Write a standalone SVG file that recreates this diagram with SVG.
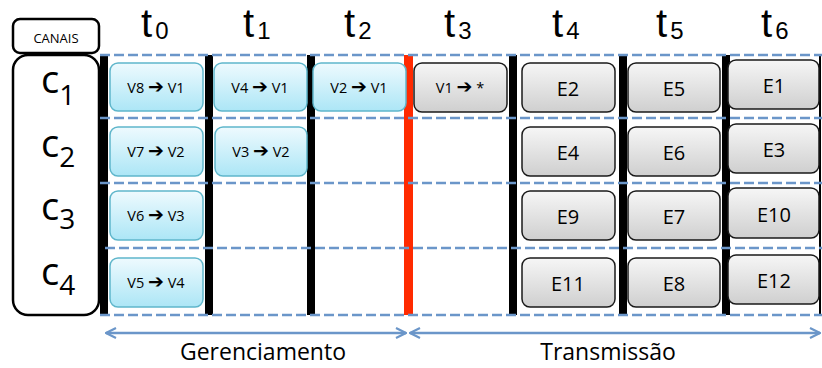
<svg xmlns="http://www.w3.org/2000/svg" width="822" height="368" viewBox="0 0 822 368">
<style>
text{font-family:"Open Sans","DejaVu Sans",sans-serif;fill:#000}
.lbl{font-size:14.5px;text-anchor:middle}
.ar{font-family:"DejaVu Sans",sans-serif;font-weight:bold;font-size:19px}
.e{font-size:20px;text-anchor:middle}
.t{font-family:"Liberation Sans","Open Sans",sans-serif;font-size:40px}
.tsub{font-size:24px}
.c{font-size:38px}
.csub{font-size:28px}
.blue{fill:url(#gb);stroke:#5fb6cb;stroke-width:1.5}
.gray{fill:url(#gg);stroke:#1a1a1a;stroke-width:1.5}
.dash{stroke:#6b96c9;stroke-width:2.5;stroke-dasharray:10 4;fill:none}
.bar{fill:#000}
.frame{fill:#fff;stroke:#000;stroke-width:2.5}
.arr{stroke:#6b96c9;stroke-width:2.5;fill:none}
</style>
<defs>
<linearGradient id="gb" x1="0" y1="0" x2="0" y2="1"><stop offset="0" stop-color="#eefafe"/><stop offset="1" stop-color="#ace6f6"/></linearGradient>
<linearGradient id="gg" x1="0" y1="0" x2="0" y2="1"><stop offset="0" stop-color="#f6f6f6"/><stop offset="1" stop-color="#cfcfcf"/></linearGradient>
<marker id="ah" viewBox="0 0 12 12" refX="11" refY="6" markerWidth="12" markerHeight="12" markerUnits="userSpaceOnUse" orient="auto-start-reverse"><path d="M1,1 L11,6 L1,11" fill="none" stroke="#6b96c9" stroke-width="2.2"/></marker>
</defs>

<g id="canais"><rect class="frame" x="13" y="19" width="86" height="34" rx="7"/><text x="56" y="43" style="font-size:13px;text-anchor:middle">CANAIS</text></g>
<g id="channels"><rect class="frame" x="13" y="55" width="86" height="260" rx="15"/>
<text x="41" y="93" class="c">c<tspan class="csub" dy="12">1</tspan></text>
<text x="41" y="157" class="c">c<tspan class="csub" dy="10">2</tspan></text>
<text x="41" y="220" class="c">c<tspan class="csub" dy="9">3</tspan></text>
<text x="41" y="285" class="c">c<tspan class="csub" dy="10">4</tspan></text>
</g>

<g id="time-labels">
<text x="141" y="37" class="t">t<tspan class="tsub" dx="3" dy="2">0</tspan></text>
<text x="243" y="37" class="t">t<tspan class="tsub" dx="3" dy="2">1</tspan></text>
<text x="344" y="37" class="t">t<tspan class="tsub" dx="3" dy="2">2</tspan></text>
<text x="444" y="37" class="t">t<tspan class="tsub" dx="3" dy="2">3</tspan></text>
<text x="552" y="37" class="t">t<tspan class="tsub" dx="3" dy="2">4</tspan></text>
<text x="656" y="37" class="t">t<tspan class="tsub" dx="3" dy="2">5</tspan></text>
<text x="761" y="37" class="t">t<tspan class="tsub" dx="3" dy="2">6</tspan></text>
</g>

<g id="grid">
<rect class="bar" x="100" y="55" width="8" height="260"/>
<rect class="bar" x="205" y="55" width="8" height="260"/>
<rect class="bar" x="307" y="55" width="8" height="260"/>
<rect x="404" y="55" width="9" height="260" fill="#ff2a00"/>
<rect class="bar" x="509" y="55" width="8" height="260"/>
<rect class="bar" x="619" y="55" width="8" height="260"/>
<rect class="bar" x="722" y="55" width="8" height="260"/>
<rect class="bar" x="819" y="55" width="2" height="260"/>
<line class="dash" x1="100" y1="55" x2="822" y2="55"/>
<line class="dash" x1="100" y1="118" x2="822" y2="118"/>
<line class="dash" x1="100" y1="183" x2="822" y2="183"/>
<line class="dash" x1="105" y1="248" x2="822" y2="248"/>
<line class="dash" x1="100" y1="315" x2="822" y2="315"/>
</g>

<g id="n-v8v1"><rect class="blue" x="110" y="63" width="93" height="48" rx="8"/><text class="lbl" x="156" y="93">V8 <tspan class="ar">➔</tspan> V1</text></g>
<g id="n-v7v2"><rect class="blue" x="110" y="127" width="93" height="49" rx="8"/><text class="lbl" x="156" y="157">V7 <tspan class="ar">➔</tspan> V2</text></g>
<g id="n-v6v3"><rect class="blue" x="110" y="191" width="93" height="49" rx="8"/><text class="lbl" x="156" y="221">V6 <tspan class="ar">➔</tspan> V3</text></g>
<g id="n-v5v4"><rect class="blue" x="110" y="258" width="93" height="49" rx="8"/><text class="lbl" x="156" y="288">V5 <tspan class="ar">➔</tspan> V4</text></g>
<g id="n-v4v1"><rect class="blue" x="214" y="63" width="93" height="48" rx="8"/><text class="lbl" x="260" y="93">V4 <tspan class="ar">➔</tspan> V1</text></g>
<g id="n-v3v2"><rect class="blue" x="215" y="127" width="92" height="49" rx="8"/><text class="lbl" x="261" y="157">V3 <tspan class="ar">➔</tspan> V2</text></g>
<g id="n-v2v1"><rect class="blue" x="313" y="63" width="93" height="48" rx="8"/><text class="lbl" x="359" y="93">V2 <tspan class="ar">➔</tspan> V1</text></g>
<g id="n-v1"><rect class="gray" x="414" y="63" width="93" height="49" rx="8"/><text class="lbl" x="460" y="93">V1 <tspan class="ar">➔</tspan> *</text></g>

<g id="n-e2"><rect class="gray" x="522" y="63" width="93" height="49" rx="8"/><text class="e" x="568" y="96">E2</text></g>
<g id="n-e4"><rect class="gray" x="522" y="127" width="93" height="49" rx="8"/><text class="e" x="568" y="160">E4</text></g>
<g id="n-e9"><rect class="gray" x="522" y="191" width="93" height="49" rx="8"/><text class="e" x="568" y="224">E9</text></g>
<g id="n-e11"><rect class="gray" x="522" y="258" width="93" height="49" rx="8"/><text class="e" x="568" y="291">E11</text></g>
<g id="n-e5"><rect class="gray" x="628" y="63" width="92" height="49" rx="8"/><text class="e" x="674" y="96">E5</text></g>
<g id="n-e6"><rect class="gray" x="628" y="127" width="92" height="49" rx="8"/><text class="e" x="674" y="160">E6</text></g>
<g id="n-e7"><rect class="gray" x="628" y="191" width="92" height="49" rx="8"/><text class="e" x="674" y="224">E7</text></g>
<g id="n-e8"><rect class="gray" x="628" y="258" width="92" height="49" rx="8"/><text class="e" x="674" y="291">E8</text></g>
<g id="n-e1"><rect class="gray" x="728" y="60" width="91" height="49" rx="8"/><text class="e" x="774" y="93">E1</text></g>
<g id="n-e3"><rect class="gray" x="728" y="124" width="91" height="49" rx="8"/><text class="e" x="774" y="157">E3</text></g>
<g id="n-e10"><rect class="gray" x="728" y="188" width="91" height="50" rx="8"/><text class="e" x="774" y="222">E10</text></g>
<g id="n-e12"><rect class="gray" x="728" y="255" width="91" height="49" rx="8"/><text class="e" x="774" y="288">E12</text></g>

<g id="connectors">
<line class="arr" x1="106" y1="333" x2="406" y2="333" marker-start="url(#ah)" marker-end="url(#ah)"/>
<line class="arr" x1="410" y1="333" x2="820" y2="333" marker-start="url(#ah)" marker-end="url(#ah)"/>
</g>
<g id="phase-labels">
<text x="263" y="360" style="font-size:23px;text-anchor:middle">Gerenciamento</text>
<text x="608" y="360" style="font-size:23px;text-anchor:middle">Transmissão</text>
</g>
</svg>
